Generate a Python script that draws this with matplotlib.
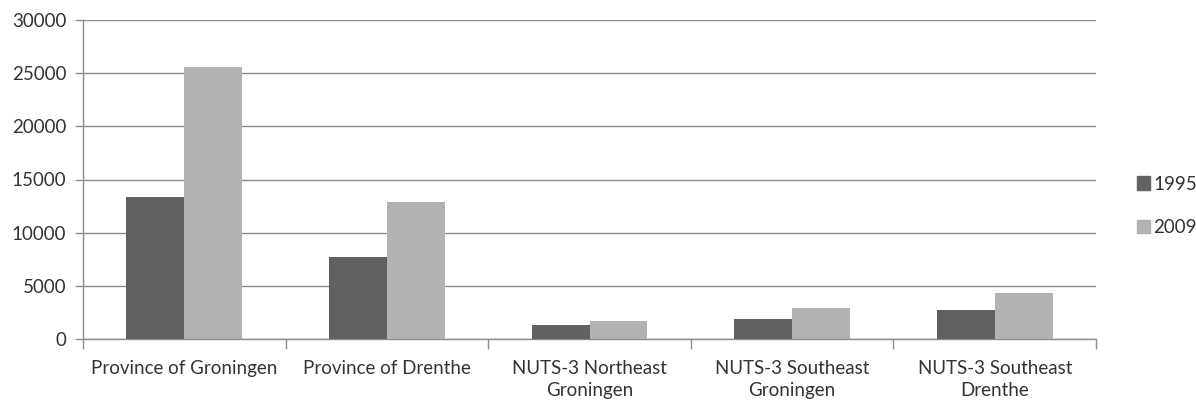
import matplotlib
matplotlib.use("Agg")
import matplotlib.pyplot as plt
from matplotlib.patches import Patch
import numpy as np

categories = ["Province of Groningen", "Province of Drenthe", "NUTS-3 Northeast\nGroningen",
              "NUTS-3 Southeast\nGroningen", "NUTS-3 Southeast\nDrenthe"]
series_names = ["1995", "2009"]
values_1995 = [13400, 7700, 1300, 1900, 2750]
values_2009 = [25600, 12900, 1650, 2900, 4300]
yticks = [0, 5000, 10000, 15000, 20000, 25000, 30000]

plt.rcParams['font.family'] = ['Lato', 'DejaVu Sans']
fig = plt.figure(figsize=(11.96, 4.0), dpi=100)
ax = fig.add_axes([0.0694, 0.1525, 0.9164 - 0.0694, 0.95 - 0.1525])

colors = ["#616161", "#b2b2b2"]
fs = 13.5
x = np.arange(len(categories))
w = 1 / 3.5
ax.bar(x - w / 2, values_1995, width=w, color=colors[0], zorder=3)
ax.bar(x + w / 2, values_2009, width=w, color=colors[1], zorder=3)

ax.set_xlim(-0.5, len(categories) - 0.5)
ax.set_ylim(0, 30000)
ax.set_yticks(yticks)
ax.set_yticklabels([str(t) for t in yticks], fontsize=fs, color="#333333")
ax.yaxis.grid(True, color="#8c8c8c", linewidth=1.0, zorder=0)
ax.set_axisbelow(True)

ax.set_xticks(x)
ax.set_xticklabels(categories, fontsize=fs, color="#333333", linespacing=1.4)
ax.tick_params(axis='x', length=0, pad=15)
ax.set_xticks(np.arange(len(categories) + 1) - 0.5, minor=True)
ax.tick_params(axis='x', which='minor', length=7, color="#8c8c8c", width=1)
ax.tick_params(axis='y', length=6, color="#8c8c8c", width=1, pad=6)

for s in ['top', 'right']:
    ax.spines[s].set_visible(False)
for s in ['left', 'bottom']:
    ax.spines[s].set_color("#8c8c8c")
    ax.spines[s].set_linewidth(1.0)

handles = [Patch(color=colors[0]), Patch(color=colors[1])]
fig.legend(handles, series_names, loc='upper left', bbox_to_anchor=(0.9507, 0.561),
           frameon=False, fontsize=fs, handlelength=0.7, handleheight=0.7,
           handletextpad=0.15, labelspacing=1.4, borderpad=0, borderaxespad=0,
           labelcolor="#333333")

fig.savefig("out.png", dpi=100)
